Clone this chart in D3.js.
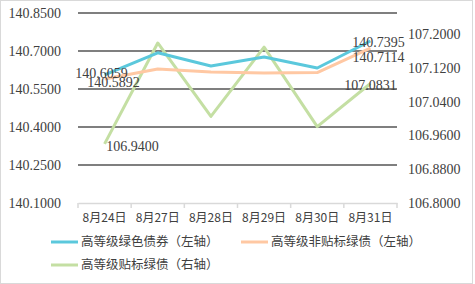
<!DOCTYPE html>
<html>
<head>
<meta charset="utf-8">
<script src="https://cdn.jsdelivr.net/npm/d3@7"></script>
<style>
  body { margin: 0; background: #fff; }
  svg text { font-family: "Liberation Serif", "Noto Sans CJK SC", serif; }
</style>
</head>
<body>
<script>
var categories = ["8月24日", "8月27日", "8月28日", "8月29日", "8月30日", "8月31日"];
var greenBond = [140.6059, 140.693, 140.641, 140.676, 140.633, 140.7395];      // 左轴
var nonLabelBond = [140.5892, 140.629, 140.617, 140.613, 140.615, 140.7114];   // 左轴
var labelBond = [106.9400, 107.179, 107.005, 107.169, 106.981, 107.0831];      // 右轴
var leftTicks = [140.10, 140.25, 140.40, 140.55, 140.70, 140.85];
var rightTicks = [106.80, 106.88, 106.96, 107.04, 107.12, 107.20];
var seriesNames = ["高等级绿色债券（左轴）", "高等级非贴标绿债（左轴）", "高等级贴标绿债（右轴）"];

var width = 475, height = 284;
var margin = {top: 13, right: 78, bottom: 81, left: 78};
var plotW = width - margin.left - margin.right,
    plotH = height - margin.top - margin.bottom;

var x = d3.scaleBand().domain(categories).range([0, plotW]);
var yL = d3.scaleLinear().domain([140.10, 140.85]).range([plotH, 0]);
var yR = d3.scaleLinear().domain([106.80, 107.25]).range([plotH, 0]);

var svg = d3.select("body").append("svg")
    .attr("width", width)
    .attr("height", height);

svg.append("rect")  // outer frame
    .attr("x", 0.5).attr("y", 0.5)
    .attr("width", width - 3).attr("height", height - 1)
    .attr("fill", "#fff").attr("stroke", "#d9d9d9");

var g = svg.append("g")
    .attr("transform", "translate(" + margin.left + "," + margin.top + ")");

// gridlines (left axis ticks)
g.selectAll(".grid")
    .data(leftTicks.slice(1))
  .enter().append("line")
    .attr("x1", 0).attr("x2", plotW)
    .attr("y1", function(d) { return yL(d); })
    .attr("y2", function(d) { return yL(d); })
    .attr("stroke", "#7f7f7f")
    .attr("stroke-width", 2);

// x axis
var xAxis = g.append("g")
    .attr("transform", "translate(0," + plotH + ")")
    .call(d3.axisBottom(x).tickSize(0).tickPadding(10));
xAxis.select(".domain").attr("stroke", "#d9d9d9").attr("stroke-width", 1.5);
xAxis.selectAll("text")
    .attr("fill", "#404040")
    .style("font-family", "'Noto Sans CJK SC', sans-serif")
    .style("font-size", "12px");
xAxis.selectAll(".bound")
    .data(d3.range(categories.length + 1))
  .enter().append("line")
    .attr("x1", function(i) { return i * x.step(); })
    .attr("x2", function(i) { return i * x.step(); })
    .attr("y1", 0).attr("y2", 5)
    .attr("stroke", "#d9d9d9").attr("stroke-width", 1.5);

// left axis labels
var leftAxis = g.append("g")
    .call(d3.axisLeft(yL).tickValues(leftTicks).tickSize(0).tickPadding(17)
      .tickFormat(d3.format(".4f")));
leftAxis.select(".domain").remove();
leftAxis.selectAll("text").attr("fill", "#404040").style("font-size", "14px");

// right axis labels
var rightAxis = g.append("g")
    .attr("transform", "translate(" + plotW + ",0)")
    .call(d3.axisRight(yR).tickValues(rightTicks).tickSize(0).tickPadding(11)
      .tickFormat(d3.format(".4f")));
rightAxis.select(".domain").remove();
rightAxis.selectAll("text").attr("fill", "#404040").style("font-size", "14px");

var cx = function(d, i) { return x(categories[i]) + x.bandwidth() / 2; };

var series = [
  {values: greenBond, y: yL, color: "#5bc8dc"},
  {values: nonLabelBond, y: yL, color: "#ffc8a3"},
  {values: labelBond, y: yR, color: "#c4dfa3"}
];

// draw in order: green (right axis) under, then orange, then blue
[series[2], series[1], series[0]].forEach(function(s) {
  g.append("path")
      .datum(s.values)
      .attr("fill", "none")
      .attr("stroke", s.color)
      .attr("stroke-width", 3)
      .attr("stroke-linejoin", "round")
      .attr("d", d3.line().x(cx).y(function(d) { return s.y(d); }));
});

// data labels at the first and last points (offsets relative to point)
var labels = [
  {s: 0, i: 0, dx: -3, dy: 3},
  {s: 1, i: 0, dx: 9, dy: 8},
  {s: 0, i: 5, dx: 8, dy: 6},
  {s: 1, i: 5, dx: 8, dy: 14},
  {s: 2, i: 0, dx: 28, dy: 7},
  {s: 2, i: 5, dx: 0, dy: 7}
];
g.selectAll(".dlabel")
    .data(labels)
  .enter().append("text")
    .attr("x", function(d) { return cx(null, d.i) + d.dx; })
    .attr("y", function(d) { return series[d.s].y(series[d.s].values[d.i]) + d.dy; })
    .attr("text-anchor", "middle")
    .attr("fill", "#404040")
    .style("font-size", "14px")
    .text(function(d) { return d3.format(".4f")(series[d.s].values[d.i]); });

// legend
var legendItems = [
  {name: seriesNames[0], color: series[0].color, x: 51, y: 242},
  {name: seriesNames[1], color: series[1].color, x: 241, y: 242},
  {name: seriesNames[2], color: series[2].color, x: 51, y: 265}
];
var leg = svg.selectAll(".legend")
    .data(legendItems)
  .enter().append("g")
    .attr("transform", function(d) { return "translate(" + d.x + "," + d.y + ")"; });
leg.append("line")
    .attr("x1", 0).attr("x2", 27)
    .attr("stroke", function(d) { return d.color; })
    .attr("stroke-width", 3);
leg.append("text")
    .attr("x", 30)
    .attr("dy", "0.35em")
    .attr("fill", "#404040")
    .style("font-family", "'Noto Sans CJK SC', sans-serif")
    .style("font-size", "12.5px")
    .text(function(d) { return d.name; });
</script>
</body>
</html>
